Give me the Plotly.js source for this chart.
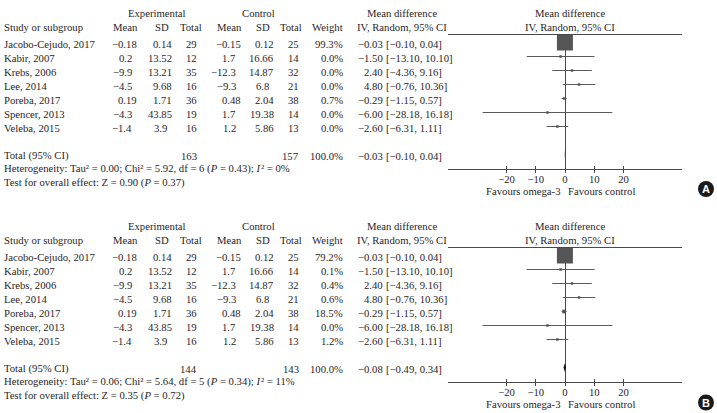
<!DOCTYPE html>
<html>
<head>
<meta charset="utf-8">
<script src="https://cdn.plot.ly/plotly-3.0.1.min.js"></script>
<style>
  html, body { margin: 0; padding: 0; background: #ffffff; }
  #chart { width: 717px; height: 413px; }
</style>
</head>
<body>
<div id="chart"></div>
<script>
// ---- study table ----
const studies   = ['Jacobo-Cejudo, 2017', 'Kabir, 2007', 'Krebs, 2006', 'Lee, 2014', 'Poreba, 2017', 'Spencer, 2013', 'Veleba, 2015'];
const expMean   = [-0.18, 0.2, -9.9, -4.5, 0.19, -4.3, -1.4];
const expSD     = [0.14, 13.52, 13.21, 9.68, 1.71, 43.85, 3.9];
const expN      = [29, 12, 35, 16, 36, 19, 16];
const ctrlMean  = [-0.15, 1.7, -12.3, -9.3, 0.48, 1.7, 1.2];
const ctrlSD    = [0.12, 16.66, 14.87, 6.8, 2.04, 19.38, 5.86];
const ctrlN     = [25, 14, 32, 21, 38, 14, 13];
const mdEst     = [-0.03, -1.50, 2.40, 4.80, -0.29, -6.00, -2.60];
const mdLow     = [-0.10, -13.10, -4.36, -0.76, -1.15, -28.18, -6.31];
const mdHigh    = [0.04, 10.10, 9.16, 10.36, 0.57, 16.18, 1.11];

// ---- per-analysis values (A, B) ----
const weightA   = [99.3, 0.0, 0.0, 0.0, 0.7, 0.0, 0.0];
const weightB   = [79.2, 0.1, 0.4, 0.6, 18.5, 0.0, 1.2];
const totalExpN  = [163, 144];
const totalCtrlN = [157, 143];
const totalEst   = [-0.03, -0.08];
const totalLow   = [-0.10, -0.49];
const totalHigh  = [0.04, 0.34];
const hetTau2    = [0.00, 0.06];
const hetChi2    = [5.92, 5.64];
const hetDf      = [6, 5];
const hetP       = [0.43, 0.34];
const hetI2      = [0, 11];
const effZ       = [0.90, 0.35];
const effP       = [0.37, 0.72];
const panelTags  = ['A', 'B'];

// ---- forest axis ----
const tickVals = [-20, -10, 0, 10, 20];
const tickText = ['\u221220', '\u221210', '0', '10', '20'];
const xRange   = [-40, 40];

// ---- page geometry & style ----
const W = 717, H = 413;
const FONT = 'Liberation Serif, Times New Roman, serif';
const FS = 10.7;
const TXT = '#2a2627';
const LINE = '#4a4a4a';
const ROW0 = 42.5, ROWH = 14;          // first row centre and row pitch (px)
const TOP_PX = 35, AXIS_PX = 169;      // header rule and axis line (px), panel A
const PANEL_SHIFT = 213;               // vertical offset of panel B (px)
const yRange = [(AXIS_PX - ROW0) / ROWH, (TOP_PX - ROW0) / ROWH];

const minus = s => String(s).replace(/-/g, '\u2212');

// text placed in page pixels (x from left, y from top)
function txt(text, x, yPx, anchor, extra) {
  return Object.assign({
    text: text, x: x / W, xref: 'paper', y: 1 - yPx / H, yref: 'paper',
    xanchor: anchor, yanchor: 'middle', showarrow: false,
    borderpad: 0, borderwidth: 0,
    font: { family: FONT, size: FS, color: TXT }
  }, extra || {});
}

// right edge for a value so that its decimal point sits at decX
function decRight(v, decX) {
  const frac = (String(v).split('.')[1] || '').length;
  return decX + (frac ? (0.25 + 0.5 * frac) * FS : 0);
}

const traces = [];
const annotations = [];
const shapes = [];
const layout = {
  width: W, height: H,
  margin: { l: 0, r: 0, t: 0, b: 0, pad: 0 },
  paper_bgcolor: '#ffffff', plot_bgcolor: 'rgba(0,0,0,0)',
  showlegend: false,
  font: { family: FONT, size: FS, color: TXT },
  annotations: annotations, shapes: shapes
};

function buildPanel(p) {
  const weights = p === 0 ? weightA : weightB;
  const sfx = p === 0 ? '' : '2';
  const xa = 'x' + sfx, ya = 'y' + sfx;
  const xOver = 'x' + (p === 0 ? '3' : '4');
  const shift = p * PANEL_SHIFT;
  const rowPx = r => ROW0 + ROWH * r + shift;
  const top = 1 - (TOP_PX + shift) / H;
  const bottom = 1 - (AXIS_PX + shift) / H;
  const dom = [448 / W, 682 / W];

  layout['xaxis' + sfx] = {
    domain: dom, range: xRange, anchor: ya,
    showline: true, mirror: true, linecolor: LINE, linewidth: 1,
    ticks: 'outside', ticklen: 3, tickwidth: 1, tickcolor: LINE,
    tickmode: 'array', tickvals: tickVals, ticktext: tickText,
    tickfont: { family: FONT, size: FS, color: TXT }, ticklabelstandoff: -3,
    showgrid: false, zeroline: true, zerolinecolor: LINE, zerolinewidth: 1,
    fixedrange: true
  };
  layout['xaxis' + (p === 0 ? '3' : '4')] = {
    overlaying: xa, anchor: ya, domain: dom, range: xRange,
    tickmode: 'array', tickvals: tickVals, ticks: 'inside', ticklen: 3,
    tickwidth: 1, tickcolor: LINE, showticklabels: false,
    showline: false, zeroline: false, showgrid: false, fixedrange: true
  };
  layout['yaxis' + sfx] = {
    domain: [bottom, top], range: yRange, visible: false, fixedrange: true
  };

  const rows = studies.map((_, i) => i);

  // confidence intervals
  const lx = [], ly = [];
  rows.forEach(i => { lx.push(mdLow[i], mdHigh[i], null); ly.push(i, i, null); });
  traces.push({ type: 'scatter', mode: 'lines', x: lx, y: ly, xaxis: xa, yaxis: ya,
    line: { color: '#5a5a5a', width: 1 }, hoverinfo: 'skip' });

  // weighted squares
  const maxW = Math.max.apply(null, weights);
  traces.push({ type: 'scatter', mode: 'markers', x: mdEst, y: rows, xaxis: xa, yaxis: ya,
    marker: { symbol: 'square', color: '#555555', opacity: 1,
      size: weights.map(w => Math.max(2.5, 16 * w / maxW)), line: { width: 0 } },
    hoverinfo: 'skip' });

  // pooled diamond
  const tRow = 8;
  traces.push({ type: 'scatter', mode: 'lines', fill: 'toself', fillcolor: '#111111',
    x: [totalLow[p], totalEst[p], totalHigh[p], totalEst[p], totalLow[p]],
    y: [tRow, tRow - 0.3, tRow, tRow + 0.3, tRow], xaxis: xa, yaxis: ya,
    line: { color: '#111111', width: 0 }, hoverinfo: 'skip' });

  // carrier for the overlaid tick axis
  traces.push({ type: 'scatter', mode: 'markers', x: [0], y: [0], xaxis: xOver, yaxis: ya,
    marker: { opacity: 0 }, hoverinfo: 'skip' });

  // ---- headers ----
  const hTop = 13 + shift, hBot = 27 + shift;
  annotations.push(txt('Experimental', 157, hTop, 'center'));
  annotations.push(txt('Control', 258.5, hTop, 'center'));
  annotations.push(txt('Mean difference', 402, hTop, 'center'));
  annotations.push(txt('Mean difference', 570, hTop, 'center'));
  annotations.push(txt('Study or subgroup', 4, hBot, 'left'));
  annotations.push(txt('Mean', 126, hBot, 'center'));
  annotations.push(txt('SD', 161.5, hBot, 'center'));
  annotations.push(txt('Total', 191, hBot, 'center'));
  annotations.push(txt('Mean', 229, hBot, 'center'));
  annotations.push(txt('SD', 263, hBot, 'center'));
  annotations.push(txt('Total', 291, hBot, 'center'));
  annotations.push(txt('Weight', 343, hBot, 'right'));
  annotations.push(txt('IV, Random, 95% CI', 402, hBot, 'center'));
  annotations.push(txt('IV, Random, 95% CI', 570, hBot, 'center'));

  // ---- study rows ----
  rows.forEach(i => {
    const y = rowPx(i) + 1.4;
    annotations.push(txt(studies[i], 4, y, 'left'));
    annotations.push(txt(minus(expMean[i]), decRight(expMean[i], 123.6), y, 'right'));
    annotations.push(txt(minus(expSD[i]), decRight(expSD[i], 158.8), y, 'right'));
    annotations.push(txt(String(expN[i]), 197, y, 'right'));
    annotations.push(txt(minus(ctrlMean[i]), decRight(ctrlMean[i], 227.5), y, 'right'));
    annotations.push(txt(minus(ctrlSD[i]), decRight(ctrlSD[i], 260.5), y, 'right'));
    annotations.push(txt(String(ctrlN[i]), 299, y, 'right'));
    annotations.push(txt(weights[i].toFixed(1) + '%', 343, y, 'right'));
    annotations.push(txt(minus(mdEst[i].toFixed(2)), 382.8, y, 'right'));
    annotations.push(txt(minus('[' + mdLow[i].toFixed(2) + ', ' + mdHigh[i].toFixed(2) + ']'), 385.5, y, 'left'));
  });

  // ---- total & statistics ----
  const ty = rowPx(tRow) + 1.4;
  annotations.push(txt('Total (95% CI)', 4, ty, 'left'));
  annotations.push(txt(String(totalExpN[p]), 197, ty, 'right'));
  annotations.push(txt(String(totalCtrlN[p]), 299, ty, 'right'));
  annotations.push(txt('100.0%', 343, ty, 'right'));
  annotations.push(txt(minus(totalEst[p].toFixed(2)), 382.8, ty, 'right'));
  annotations.push(txt(minus('[' + totalLow[p].toFixed(2) + ', ' + totalHigh[p].toFixed(2) + ']'), 385.5, ty, 'left'));

  const eq = ' = ';
  const het = 'Heterogeneity: Tau\u00b2' + eq + hetTau2[p].toFixed(2) +
    '; Chi\u00b2' + eq + hetChi2[p].toFixed(2) + ', df' + eq + hetDf[p] +
    ' (<i>P</i>' + eq + hetP[p].toFixed(2) + '); <i>I</i>\u200a\u00b2' + eq + hetI2[p] + '%';
  annotations.push(txt(het, 4, rowPx(9) + 0.2, 'left'));
  annotations.push(txt('Test for overall effect: Z' + eq + effZ[p].toFixed(2) +
    ' (<i>P</i>' + eq + effP[p].toFixed(2) + ')', 4, rowPx(10) + 0.2, 'left'));

  // ---- favours labels ----
  annotations.push(txt('Favours omega-3', 561, 191 + shift, 'right'));
  annotations.push(txt('Favours control', 568, 191 + shift, 'left'));

  // ---- panel tag ----
  const cy = 189 + shift + (p === 1 ? 0.5 : 0);
  shapes.push({ type: 'circle', xref: 'paper', yref: 'paper',
    x0: 698 / W, x1: 714 / W, y0: 1 - (cy + 8) / H, y1: 1 - (cy - 8) / H,
    fillcolor: '#1a1a1a', line: { width: 0 } });
  annotations.push({ text: '<b>' + panelTags[p] + '</b>', x: 706 / W, y: 1 - cy / H,
    xref: 'paper', yref: 'paper', xanchor: 'center', yanchor: 'middle', showarrow: false,
    borderpad: 0, borderwidth: 0,
    font: { family: 'Liberation Sans, Arial, sans-serif', size: 11, color: '#ffffff' } });
}

buildPanel(0);
buildPanel(1);

Plotly.newPlot('chart', traces, layout, { displayModeBar: false, staticPlot: true });
</script>
</body>
</html>
